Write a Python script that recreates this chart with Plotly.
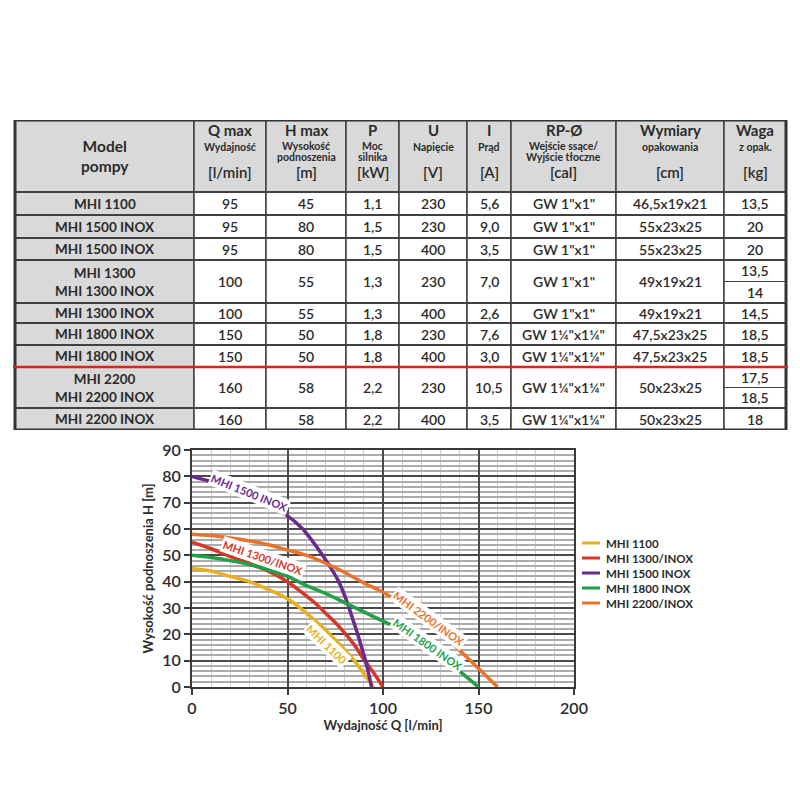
import plotly.graph_objects as go

# ---------------- table data ----------------
head_title = ["Model<br>pompy", "Q max", "H max", "P", "U", "I", "RP-Ø", "Wymiary", "Waga"]
head_sub = ["", "Wydajność", "Wysokość<br>podnoszenia", "Moc<br>silnika", "Napięcie", "Prąd",
            "Wejście ssące/<br>Wyjście tłoczne", "opakowania", "z opak."]
head_unit = ["", "[l/min]", "[m]", "[kW]", "[V]", "[A]", "[cal]", "[cm]", "[kg]"]

models = ["MHI 1100", "MHI 1500 INOX", "MHI 1500 INOX", "MHI 1300<br>MHI 1300 INOX",
          "MHI 1300 INOX", "MHI 1800 INOX", "MHI 1800 INOX", "MHI 2200<br>MHI 2200 INOX",
          "MHI 2200 INOX"]
q_max = ["95", "95", "95", "100", "100", "150", "150", "160", "160"]
h_max = ["45", "80", "80", "55", "55", "50", "50", "58", "58"]
power = ["1,1", "1,5", "1,5", "1,3", "1,3", "1,8", "1,8", "2,2", "2,2"]
voltage = ["230", "230", "400", "230", "400", "230", "400", "230", "400"]
current = ["5,6", "9,0", "3,5", "7,0", "2,6", "7,6", "3,0", "10,5", "3,5"]
rp = ['GW 1"x1"', 'GW 1"x1"', 'GW 1"x1"', 'GW 1"x1"', 'GW 1"x1"',
      'GW 1¼"x1¼"', 'GW 1¼"x1¼"', 'GW 1¼"x1¼"', 'GW 1¼"x1¼"']
dims = ["46,5x19x21", "55x23x25", "55x23x25", "49x19x21", "49x19x21",
        "47,5x23x25", "47,5x23x25", "50x23x25", "50x23x25"]
weight = [["13,5"], ["20"], ["20"], ["13,5", "14"], ["14,5"], ["18,5"], ["18,5"],
          ["17,5", "18,5"], ["18"]]

# ---------------- chart data (Q [l/min], H [m]) ----------------
q_1100 = [0, 10, 20, 30, 40, 50, 60, 70, 80, 85, 90, 95]
h_1100 = [45, 44, 42, 40, 37, 33.5, 28, 21.5, 14, 10, 5, 0]
q_1300 = [0, 10, 20, 30, 40, 50, 60, 65, 70, 75, 80, 85, 90, 95, 100]
h_1300 = [55, 52.5, 49.5, 47, 44, 40, 34.5, 31.5, 28, 24.5, 20.5, 16, 10.5, 5.5, 0]
q_1500 = [0, 10, 20, 30, 40, 50, 58, 65, 72, 76.5, 79.5, 82, 84.5, 87, 89, 91, 92.5, 94]
h_1500 = [80, 78, 75.5, 72.5, 69, 65, 60, 53.5, 46, 40.5, 35.5, 30.5, 25, 19.5, 14.5, 9.5, 5, 0]
q_1800 = [0, 10, 20, 30, 40, 50, 60, 70, 80, 90, 100, 110, 120, 130, 140, 150]
h_1800 = [50, 49.2, 48, 46.5, 44.5, 42, 38.5, 35.5, 32, 28.5, 25, 21.5, 16.5, 11.5, 6, 0]
q_2200 = [0, 10, 20, 30, 40, 50, 60, 70, 80, 90, 100, 110, 120, 130, 140, 150, 160]
h_2200 = [58, 57.5, 56.6, 55.5, 54, 52, 50, 47, 43.5, 39.5, 36, 31.5, 26.5, 21, 14, 7, 0]

series_names = ["MHI 1100", "MHI 1300/INOX", "MHI 1500 INOX", "MHI 1800 INOX", "MHI 2200/INOX"]
series_q = [q_1100, q_1300, q_1500, q_1800, q_2200]
series_h = [h_1100, h_1300, h_1500, h_1800, h_2200]
curve_labels = ["MHI 1100", "MHI 1300/INOX", "MHI 1500 INOX", "MHI 1800 INOX", "MHI 2200/INOX"]

# ---------------- styling / geometry ----------------
FONT = "Lato"
DARK = "#2b2b2b"
colors = ["#E6B01E", "#D7372B", "#6B2A8E", "#21A048", "#EA7328"]
label_pos = [(70.5, 16), (37, 49), (30, 74), (123.5, 16), (124, 26)]
label_angle = [44, 19, 22, 35, 36]

OFF = 8                 # page body margin
W = H = 800 - OFF


def px(xp):
    return (xp - OFF) / W


def py(yp):
    return 1 - (yp - OFF) / H


TBL_LEFT, TBL_TOP = 15, 120
col_widths = [179, 72, 80, 53, 68, 44, 105, 108, 62]
row_heights = [72, 23, 23, 22, 43, 20, 22, 22, 41, 22]
RED_AFTER = 7          # red separator under this many data rows
GREY = "#d9d9d9"
GRID = "#404040"

col_edges = [TBL_LEFT]
for w in col_widths:
    col_edges.append(col_edges[-1] + w)
row_edges = [TBL_TOP]
for h in row_heights:
    row_edges.append(row_edges[-1] + h)

fig = go.Figure()

# ---------------- chart ----------------
for name, qs, hs, col in zip(series_names, series_q, series_h, colors):
    fig.add_trace(go.Scatter(x=qs, y=hs, mode="lines", name=name, showlegend=False,
                             line=dict(color=col, width=3.5, shape="spline", smoothing=0.8),
                             xaxis="x", yaxis="y"))

shapes = []
annotations = []

for txt, (lx, ly), ang, col in zip(curve_labels, label_pos, label_angle, colors):
    annotations.append(dict(x=lx, y=ly, xref="x", yref="y", text=txt, showarrow=False,
                            textangle=ang, bgcolor="white", borderpad=1,
                            font=dict(family=FONT, size=11, color=col, weight="bold")))

# legend (drawn manually to get the tight 15px row spacing)
LEG_X0, LEG_X1, LEG_TX, LEG_Y0, LEG_DY = 582, 600, 604, 543, 15
for i, (name, col) in enumerate(zip(series_names, colors)):
    yy = LEG_Y0 + i * LEG_DY
    shapes.append(dict(type="line", xref="paper", yref="paper", x0=px(LEG_X0), x1=px(LEG_X1),
                       y0=py(yy), y1=py(yy), line=dict(color=col, width=3)))
    annotations.append(dict(x=px(LEG_TX), y=py(yy), xref="paper", yref="paper", text=name,
                            showarrow=False, xanchor="left", yanchor="middle",
                            font=dict(family=FONT, size=11.5, color=DARK, weight="bold")))

# ---------------- table (drawn on a hidden pixel-scale axis pair) ----------------
data_cols = [models, q_max, h_max, power, voltage, current, rp, dims]
n_rows = len(models)

for r in range(n_rows + 1):
    for c in range(len(col_widths)):
        fill = GREY if (r == 0 or c == 0) else "white"
        shapes.append(dict(type="rect", xref="x2", yref="y2",
                           x0=col_edges[c], x1=col_edges[c + 1],
                           y0=row_edges[r], y1=row_edges[r + 1],
                           fillcolor=fill, line=dict(color=GRID, width=1.5), layer="below"))

for i, ws in enumerate(weight):
    if len(ws) == 2:
        ym = (row_edges[i + 1] + row_edges[i + 2]) / 2
        shapes.append(dict(type="line", xref="x2", yref="y2", x0=col_edges[-2], x1=col_edges[-1],
                           y0=ym, y1=ym, line=dict(color=GRID, width=1.2)))

for r in range(1, n_rows + 1):
    shapes.append(dict(type="line", xref="x2", yref="y2", x0=col_edges[0], x1=col_edges[-1],
                       y0=row_edges[r], y1=row_edges[r], line=dict(color=GRID, width=2)))

shapes.append(dict(type="rect", xref="x2", yref="y2", x0=col_edges[0], x1=col_edges[-1],
                   y0=row_edges[0], y1=row_edges[-1], line=dict(color="#333333", width=3)))
yr = row_edges[RED_AFTER + 1]
shapes.append(dict(type="line", xref="x2", yref="y2", x0=col_edges[0] - 2, x1=col_edges[-1] + 2,
                   y0=yr, y1=yr, line=dict(color="#E4201B", width=2.5)))

# header texts
for c in range(len(col_widths)):
    xc = (col_edges[c] + col_edges[c + 1]) / 2
    if c == 0:
        annotations.append(dict(x=xc, y=(row_edges[0] + row_edges[1]) / 2, xref="x2", yref="y2",
                                text=head_title[c], showarrow=False,
                                font=dict(family=FONT, size=15.5, color=DARK, weight="bold")))
        continue
    annotations.append(dict(x=xc, y=row_edges[0] + 10, xref="x2", yref="y2", text=head_title[c],
                            showarrow=False,
                            font=dict(family=FONT, size=15, color=DARK, weight="bold")))
    sub_lines = head_sub[c].split("<br>")
    sub_ys = [row_edges[0] + 27] if len(sub_lines) == 1 else [row_edges[0] + 25.5, row_edges[0] + 37]
    for line_txt, sy in zip(sub_lines, sub_ys):
        annotations.append(dict(x=xc, y=sy, xref="x2", yref="y2", text=line_txt,
                                showarrow=False, yanchor="middle",
                                font=dict(family=FONT, size=10.5, color=DARK, weight="bold")))
    annotations.append(dict(x=xc, y=row_edges[0] + 52, xref="x2", yref="y2", text=head_unit[c],
                            showarrow=False,
                            font=dict(family=FONT, size=15, color=DARK, weight=600)))

# data texts
for r in range(n_rows):
    yc = (row_edges[r + 1] + row_edges[r + 2]) / 2
    for c, col in enumerate(data_cols):
        xc = (col_edges[c] + col_edges[c + 1]) / 2
        annotations.append(dict(x=xc, y=yc, xref="x2", yref="y2", text=col[r], showarrow=False,
                                font=dict(family=FONT, size=14 if c else 13.5, color=DARK,
                                          weight="bold" if c == 0 else 600)))
    xc = (col_edges[-2] + col_edges[-1]) / 2
    ws = weight[r]
    if len(ws) == 1:
        ys = [yc]
    else:
        hh = row_edges[r + 2] - row_edges[r + 1]
        ys = [row_edges[r + 1] + hh / 4, row_edges[r + 1] + 3 * hh / 4]
    for w, yy in zip(ws, ys):
        annotations.append(dict(x=xc, y=yy, xref="x2", yref="y2", text=w, showarrow=False,
                                font=dict(family=FONT, size=14, color=DARK, weight=600)))

fig.update_layout(
    template="none",
    width=W, height=H,
    margin=dict(l=0, r=0, t=0, b=0),
    paper_bgcolor="white",
    plot_bgcolor="rgba(0,0,0,0)",
    font=dict(family=FONT, color=DARK),
    showlegend=False,
    xaxis=dict(domain=[px(192), px(574)], range=[0, 200], dtick=50, tick0=0,
               showgrid=True, gridcolor="#4a4a4a", gridwidth=1.6,
               minor=dict(dtick=10, showgrid=True, gridcolor="#cfcfcf", gridwidth=1.2),
               showline=True, linecolor="#3a3a3a", linewidth=2, mirror=True,
               ticks="outside", ticklen=6, tickcolor="#3a3a3a", tickwidth=1.5,
               zeroline=False, tickfont=dict(family=FONT, size=16, color=DARK, weight=600),
               title=dict(text="Wydajność Q [l/min]", standoff=3,
                          font=dict(family=FONT, size=13, color=DARK, weight="bold")),
               anchor="y", fixedrange=True),
    yaxis=dict(domain=[py(687), py(450)], range=[0, 90], dtick=10, tick0=0,
               showgrid=True, gridcolor="#4a4a4a", gridwidth=1.6,
               minor=dict(dtick=2, showgrid=True, gridcolor="#ababab", gridwidth=1.5),
               showline=True, linecolor="#3a3a3a", linewidth=2, mirror=True,
               ticks="outside", ticklen=6, tickcolor="#3a3a3a", tickwidth=1.5,
               zeroline=False, tickfont=dict(family=FONT, size=16, color=DARK, weight=600),
               title=dict(text="Wysokość podnoszenia H [m]", standoff=6,
                          font=dict(family=FONT, size=13, color=DARK, weight="bold")),
               anchor="x", fixedrange=True),
    xaxis2=dict(domain=[0, 1], range=[OFF, OFF + W], visible=False, anchor="y2", fixedrange=True),
    yaxis2=dict(domain=[py(row_edges[-1]), py(TBL_TOP)],
                range=[row_edges[-1], TBL_TOP], visible=False, anchor="x2", fixedrange=True),
    shapes=shapes,
    annotations=annotations,
)

fig.write_html("out.html")
